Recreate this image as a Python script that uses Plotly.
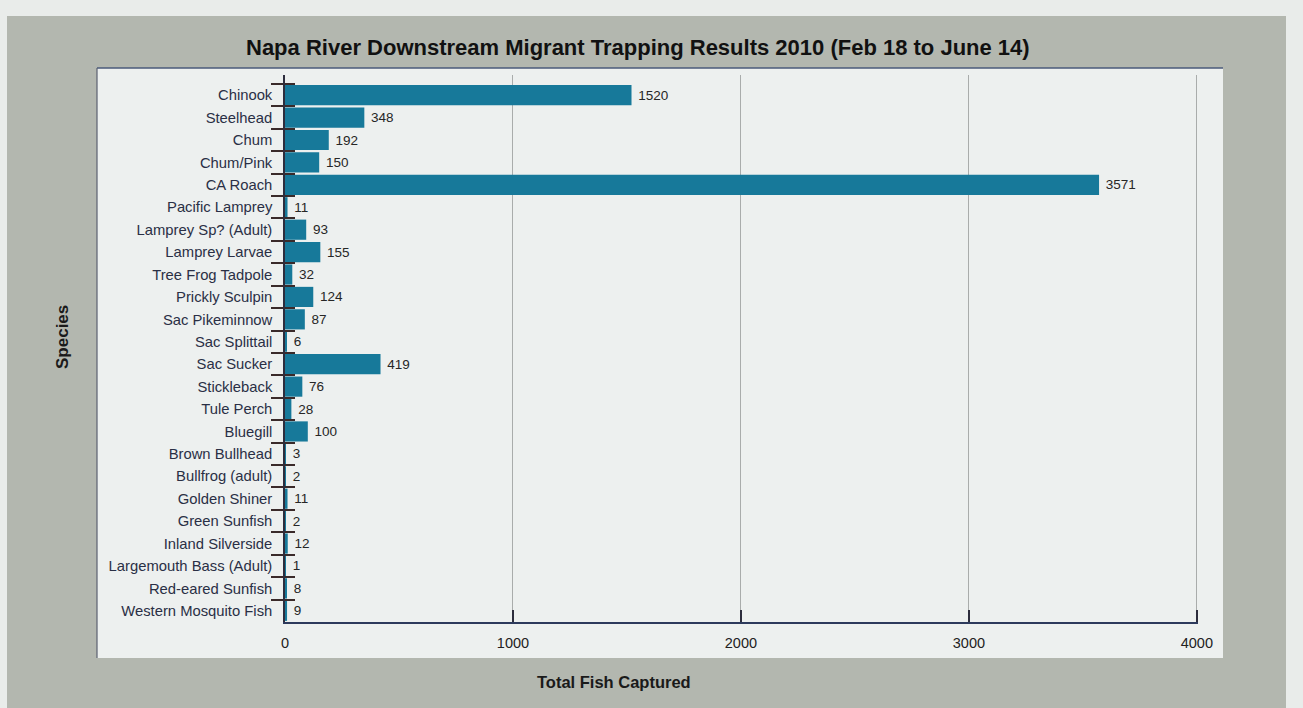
import plotly.graph_objects as go

species = ["Chinook", "Steelhead", "Chum", "Chum/Pink", "CA Roach", "Pacific Lamprey",
           "Lamprey Sp? (Adult)", "Lamprey Larvae", "Tree Frog Tadpole", "Prickly Sculpin",
           "Sac Pikeminnow", "Sac Splittail", "Sac Sucker", "Stickleback", "Tule Perch",
           "Bluegill", "Brown Bullhead", "Bullfrog (adult)", "Golden Shiner", "Green Sunfish",
           "Inland Silverside", "Largemouth Bass (Adult)", "Red-eared Sunfish",
           "Western Mosquito Fish"]
captured = [1520, 348, 192, 150, 3571, 11, 93, 155, 32, 124, 87, 6, 419, 76, 28, 100,
            3, 2, 11, 2, 12, 1, 8, 9]
x_ticks = [0, 1000, 2000, 3000, 4000]

W, H = 1303, 708
L, R, T, B = 285, 105, 75, 86
PW, PH = W - L - R, H - T - B

def px(xp):
    return (xp - L) / PW

def py(yp):
    return 1 - (yp - T) / PH

FONT = "Arial, Liberation Sans, sans-serif"
n = len(species)

fig = go.Figure()
fig.add_trace(go.Bar(
    y=species, x=captured, orientation="h",
    marker=dict(color="#17799a", line=dict(width=0)),
    text=captured, texttemplate="\u00a0%{x}", textposition="outside",
    textfont=dict(family=FONT, size=13.5, color="#262626"),
    cliponaxis=False, hoverinfo="skip",
))
# empty helper trace so the inner tick axis (y2) is rendered
fig.add_trace(go.Scatter(x=[None], y=[None], yaxis="y2", mode="markers",
                         showlegend=False, hoverinfo="skip"))

shapes = [
    dict(type="rect", xref="paper", yref="paper", x0=px(7), x1=px(1286), y0=py(16), y1=py(720),
         fillcolor="#b3b7af", line=dict(width=0), layer="below"),
    dict(type="rect", xref="paper", yref="paper", x0=px(97), x1=px(1223), y0=py(68), y1=py(658),
         fillcolor="#edf0ef", line=dict(width=0), layer="below"),
    dict(type="line", xref="paper", yref="paper", x0=px(97), x1=px(1223), y0=py(68), y1=py(68),
         line=dict(color="#4a5a7a", width=1.5), layer="below"),
    dict(type="line", xref="paper", yref="paper", x0=px(97), x1=px(97), y0=py(68), y1=py(658),
         line=dict(color="#5a6070", width=1.2), layer="below"),
]

annotations = [
    dict(text="<b>Napa River Downstream Migrant Trapping Results 2010 (Feb 18 to June 14)</b>",
         xref="paper", yref="paper", x=px(638), y=py(47), xanchor="center", yanchor="middle",
         showarrow=False, font=dict(family=FONT, size=22, color="#111111")),
    dict(text="<b>Total Fish Captured</b>", xref="paper", yref="paper", x=px(614), y=py(682),
         xanchor="center", yanchor="middle", showarrow=False,
         font=dict(family=FONT, size=16.5, color="#1a1a1a")),
    dict(text="<b>Species</b>", xref="paper", yref="paper", x=px(62), y=py(337),
         xanchor="center", yanchor="middle", showarrow=False, textangle=-90,
         font=dict(family=FONT, size=17, color="#1a1a1a")),
]

fig.update_layout(
    width=W, height=H,
    margin=dict(l=L, r=R, t=T, b=B, pad=0),
    paper_bgcolor="#e9ecea", plot_bgcolor="rgba(0,0,0,0)",
    showlegend=False, bargap=0.1,
    shapes=shapes, annotations=annotations,
    xaxis=dict(range=[0, 4005], tickvals=x_ticks, ticktext=[str(v) for v in x_ticks],
               showgrid=True, gridcolor="#a9acab", gridwidth=1, zeroline=False,
               showline=True, linecolor="#2d3a5c", linewidth=1.5,
               ticks="inside", ticklen=12, tickcolor="#2d2d3d", tickwidth=1.5,
               ticklabelstandoff=7,
               tickfont=dict(family=FONT, size=14.5, color="#222222")),
    yaxis=dict(type="category", categoryorder="array", categoryarray=species,
               range=[n - 0.5, -0.9], showgrid=False, zeroline=False,
               showline=True, linecolor="#2d2d3d", linewidth=1.5,
               ticks="outside", tickson="boundaries", ticklen=12,
               tickcolor="#3a2a2a", tickwidth=1.5, ticklabelstandoff=8,
               tickfont=dict(family=FONT, size=14.8, color="#2a2f45")),
    yaxis2=dict(overlaying="y", anchor="x", side="left", type="linear",
                range=[n - 0.5, -0.9], tickvals=[i - 0.5 for i in range(n)],
                ticks="inside", ticklen=10, tickcolor="#3a2a2a", tickwidth=1.5,
                showticklabels=False, showgrid=False, zeroline=False, showline=False),
)

fig.write_html("out.html", config={"displayModeBar": False},
               post_script="document.body.style.margin='0px';")
